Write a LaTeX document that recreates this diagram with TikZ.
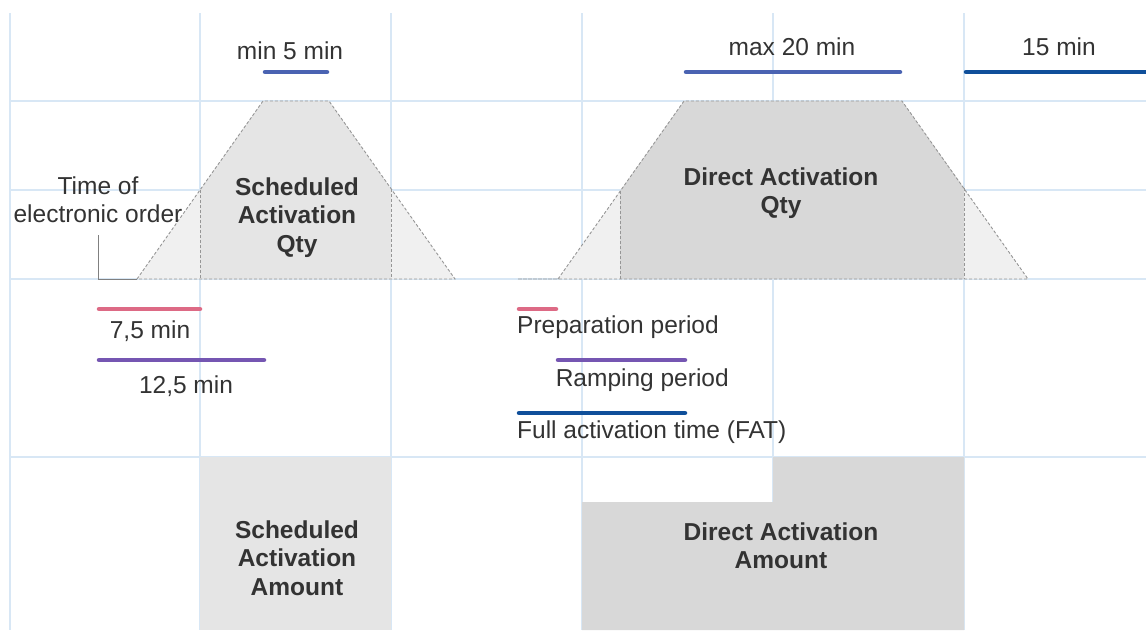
\documentclass[tikz,border=0pt]{standalone}
\usepackage{fontspec}
\setmainfont{Liberation Sans}
\usetikzlibrary{positioning, calc}

\definecolor{gridblue}{RGB}{216,231,245}
\definecolor{txtgray}{RGB}{51,51,51}
\definecolor{prepred}{RGB}{221,106,133}
\definecolor{rampviolet}{RGB}{117,86,178}
\definecolor{limitblue}{RGB}{74,99,178}
\definecolor{fatblue}{RGB}{15,79,154}
\definecolor{rampfill}{RGB}{240,240,240}
\definecolor{schedfill}{RGB}{229,229,229}
\definecolor{directfill}{RGB}{216,216,216}
\definecolor{dashgray}{RGB}{150,150,150}

\begin{document}
\begin{tikzpicture}[x=1pt, y=-1pt,
  gridline/.style={draw=gridblue, line width=1.3pt},
  period/.style={line width=4.5pt, line cap=round},
  ramp/.style={draw=dashgray, line width=0.9pt, dash pattern=on 3pt off 2pt},
  lbl/.style={inner sep=0pt, text=txtgray, font=\fontsize{24.5}{28.5}\selectfont, anchor=base},
  qty/.style={lbl, font=\fontsize{24.5}{28.5}\selectfont\bfseries, align=center, anchor=north}]

  \useasboundingbox (0,0) rectangle (1146,630);

  % grid
  \foreach \gx in {10,200,391,582,773,964}
    \draw[gridline] (\gx,13) -- (\gx,630);
  \foreach \gy in {101,190,279,457}
    \draw[gridline] (10,\gy) -- (1146,\gy);

  % scheduled activation
  \fill[rampfill] (137,279) -- (263,101) -- (329,101) -- (455,279) -- cycle;
  \fill[schedfill] (200,279) -- (200,190) -- (263,101) -- (329,101) -- (391,189) -- (391,279) -- cycle;
  \draw[ramp] (137,279) -- (263,101) -- (329,101) -- (455,279) -- cycle;
  \draw[ramp] (200,190) -- (200,279) (391,189) -- (391,279);
  \fill[schedfill] (200,457) rectangle (391,630);

  % direct activation
  \fill[rampfill] (558,279) -- (684,101) -- (902,101) -- (1028,279) -- cycle;
  \fill[directfill] (620,279) -- (620,191) -- (684,101) -- (902,101) -- (964,188) -- (964,279) -- cycle;
  \draw[ramp] (518,279) -- (558,279) -- (684,101) -- (902,101) -- (1028,279) -- cycle;
  \draw[ramp] (620,191) -- (620,279) (964,188) -- (964,279);
  \fill[directfill] (582,630) -- (582,502) -- (773,502) -- (773,457) -- (964,457) -- (964,630) -- cycle;

  % periods
  \draw[period, limitblue] (265,72) -- (327,72);
  \draw[period, limitblue] (686,72) -- (900,72);
  \draw[period, fatblue] (966,72) -- (1150,72);
  \draw[period, prepred] (99,309) -- (200,309);
  \draw[period, rampviolet] (99,360) -- (264,360);
  \draw[period, prepred] (519,309) -- (556,309);
  \draw[period, rampviolet] (558,360) -- (685,360);
  \draw[period, fatblue] (519,413) -- (685,413);

  \node (min5) [lbl] at (290,59) {min 5 min};
  \node (max20) [lbl] at (792,55) {max 20 min};
  \node (fat15) [lbl] at (1059,55) {15 min};
  \node (order) [lbl, align=center, anchor=north] at (98,176.5) {Time of\\electronic order};
  \node (schedqty) [qty] at (297,177.4) {Scheduled\\Activation\\Qty};
  \node (directqty) [qty] at (781,167.4) {Direct Activation\\Qty};
  \node (prep75) [lbl] at (150,338) {7,5 min};
  \node (ramp125) [lbl] at (186,393) {12,5 min};
  \node (prep) [lbl, anchor=base west] at (517,333) {Preparation period};
  \node (rampp) [lbl, anchor=base west] at (555.6,386) {Ramping period};
  \node (fat) [lbl, anchor=base west] at (517,438) {Full activation time (FAT)};
  \node (schedamt) [qty] at (297,520.4) {Scheduled\\Activation\\Amount};
  \node (directamt) [qty] at (781,522.4) {Direct Activation\\Amount};

  \coordinate (orderfoot) at (137,279);
  \draw[gray, line width=1pt] ([yshift=-12pt]order.south) |- (orderfoot);
\end{tikzpicture}
\end{document}
